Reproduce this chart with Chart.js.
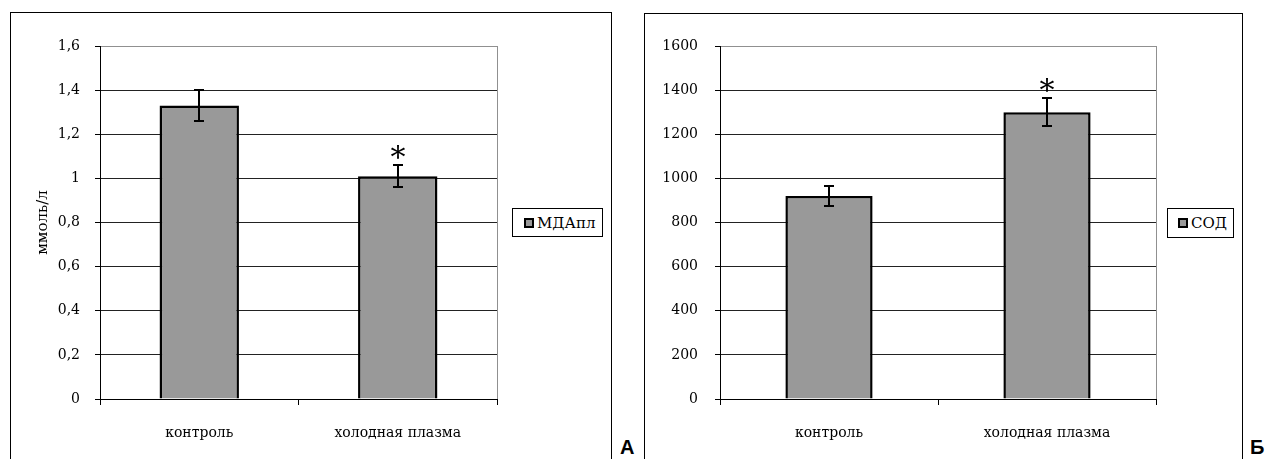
<!DOCTYPE html>
<html>
<head>
<meta charset="utf-8">
<script src="https://cdn.jsdelivr.net/npm/chart.js@4.4.0/dist/chart.umd.min.js"></script>
<style>
  body { margin: 0; background: #fff; width: 1271px; height: 459px; overflow: hidden; position: relative; }
  .box { position: absolute; border: 1px solid #000; border-bottom: none; box-sizing: border-box; }
  canvas { position: absolute; }
  .legend { position: absolute; border: 1px solid #000; box-sizing: border-box; background: #fff;
            font-family: "DejaVu Serif", serif; font-size: 15px; color: #000; display: flex; align-items: center; }
  .legend .sw { width: 10px; height: 10px; box-sizing: border-box; border: 2px solid #000; background: #999; margin: 0 3px 0 0; }
  .letter { position: absolute; font-family: "Liberation Sans", Arial, sans-serif; font-weight: bold; font-size: 20px; line-height: 20px; color: #000; }
</style>
</head>
<body>
<div class="box" style="left:10px; top:12px; width:602px; height:460px;"></div>
<div class="box" style="left:644px; top:13px; width:599px; height:460px;"></div>

<canvas id="chartA" width="599" height="446" style="left:11px; top:13px;"></canvas>
<canvas id="chartB" width="597" height="445" style="left:645px; top:14px;"></canvas>

<div class="legend" style="left:512px; top:208px; width:91px; height:29px; padding-left:11px;"><span class="sw"></span>МДАпл</div>
<div class="legend" style="left:1167px; top:208px; width:67px; height:30px; padding-left:10px;"><span class="sw"></span>СОД</div>

<div class="letter" style="left:620px; top:437px;">А</div>
<div class="letter" style="left:1250px; top:437px;">Б</div>

<script>
const categories = ['контроль', 'холодная плазма'];

const mdaValues = [1.33, 1.01];
const mdaErrors = [0.07, 0.05];
const mdaMarks = ['', '*'];
const mdaTicks = ['0', '0,2', '0,4', '0,6', '0,8', '1', '1,2', '1,4', '1,6'];

const sodValues = [920, 1300];
const sodErrors = [45, 63];
const sodMarks = ['', '*'];
const sodTicks = ['0', '200', '400', '600', '800', '1000', '1200', '1400', '1600'];

const serif = 'DejaVu Serif';

// error bars, asterisks and the grey right edge of the plot
const errorBars = {
  id: 'errorBars',
  afterDatasetsDraw(chart) {
    const ctx = chart.ctx;
    const ds = chart.data.datasets[0];
    const meta = chart.getDatasetMeta(0);
    const y = chart.scales.y;
    ctx.save();
    ctx.strokeStyle = '#000';
    ctx.lineWidth = 2;
    meta.data.forEach((bar, i) => {
      const v = ds.data[i], e = ds.errors[i];
      const top = Math.round(y.getPixelForValue(v + e));
      const bot = Math.round(y.getPixelForValue(v - e));
      const x = Math.round(bar.x);
      ctx.beginPath();
      ctx.moveTo(x, top); ctx.lineTo(x, bot);
      ctx.moveTo(x - 5, top); ctx.lineTo(x + 5, top);
      ctx.moveTo(x - 5, bot); ctx.lineTo(x + 5, bot);
      ctx.stroke();
      if (ds.marks[i]) {
        ctx.fillStyle = '#000';
        ctx.font = '30px "DejaVu Serif"';
        ctx.textAlign = 'center';
        ctx.textBaseline = 'alphabetic';
        ctx.fillText(ds.marks[i], x, top + 2);
      }
    });
    const a = chart.chartArea;
    ctx.strokeStyle = '#909090';
    ctx.lineWidth = 1;
    ctx.beginPath();
    ctx.moveTo(a.right + 0.5, a.top);
    ctx.lineTo(a.right + 0.5, a.bottom);
    ctx.stroke();
    ctx.restore();
  }
};

function makeChart(id, label, values, errors, marks, tickLabels, max, step, yWidth, pad, tickPad, title) {
  return new Chart(document.getElementById(id), {
    type: 'bar',
    data: {
      labels: categories,
      datasets: [{
        label: label,
        data: values,
        errors: errors,
        marks: marks,
        backgroundColor: '#999999',
        borderColor: '#000',
        borderWidth: 2.5,
        barPercentage: 0.4,
        categoryPercentage: 1
      }]
    },
    options: {
      responsive: false,
      animation: false,
      layout: { padding: pad },
      plugins: { legend: { display: false }, tooltip: { enabled: false } },
      scales: {
        x: {
          grid: { offset: true, drawOnChartArea: false, tickLength: 6, color: '#000' },
          border: { color: '#000', width: 1 },
          ticks: { color: '#000', font: { family: serif, size: 14 }, padding: 20, maxRotation: 0 },
          afterFit: s => { s.height = 60; }
        },
        y: {
          min: 0,
          max: max,
          ticks: {
            stepSize: step,
            color: '#000',
            font: { family: serif, size: 14 },
            padding: tickPad,
            callback: (v, i) => tickLabels[i]
          },
          grid: {
            color: c => (c.tick && c.tick.value === max) ? '#909090' : '#222',
            tickColor: '#000',
            tickLength: 5
          },
          border: { color: '#000', width: 1 },
          title: {
            display: !!title,
            text: title,
            color: '#000',
            font: { family: serif, size: 15 },
            padding: { top: 23, bottom: 0 }
          },
          afterFit: s => { s.width = yWidth; }
        }
      }
    },
    plugins: [errorBars]
  });
}

makeChart('chartA', 'МДАпл', mdaValues, mdaErrors, mdaMarks, mdaTicks, 1.6, 0.2, 89,
  { left: 0, right: 113, top: 33, bottom: 0 }, 15, 'ммоль/л');
makeChart('chartB', 'СОД', sodValues, sodErrors, sodMarks, sodTicks, 1600, 200, 75,
  { left: 0, right: 86, top: 32, bottom: 0 }, 17, '');
</script>
</body>
</html>
